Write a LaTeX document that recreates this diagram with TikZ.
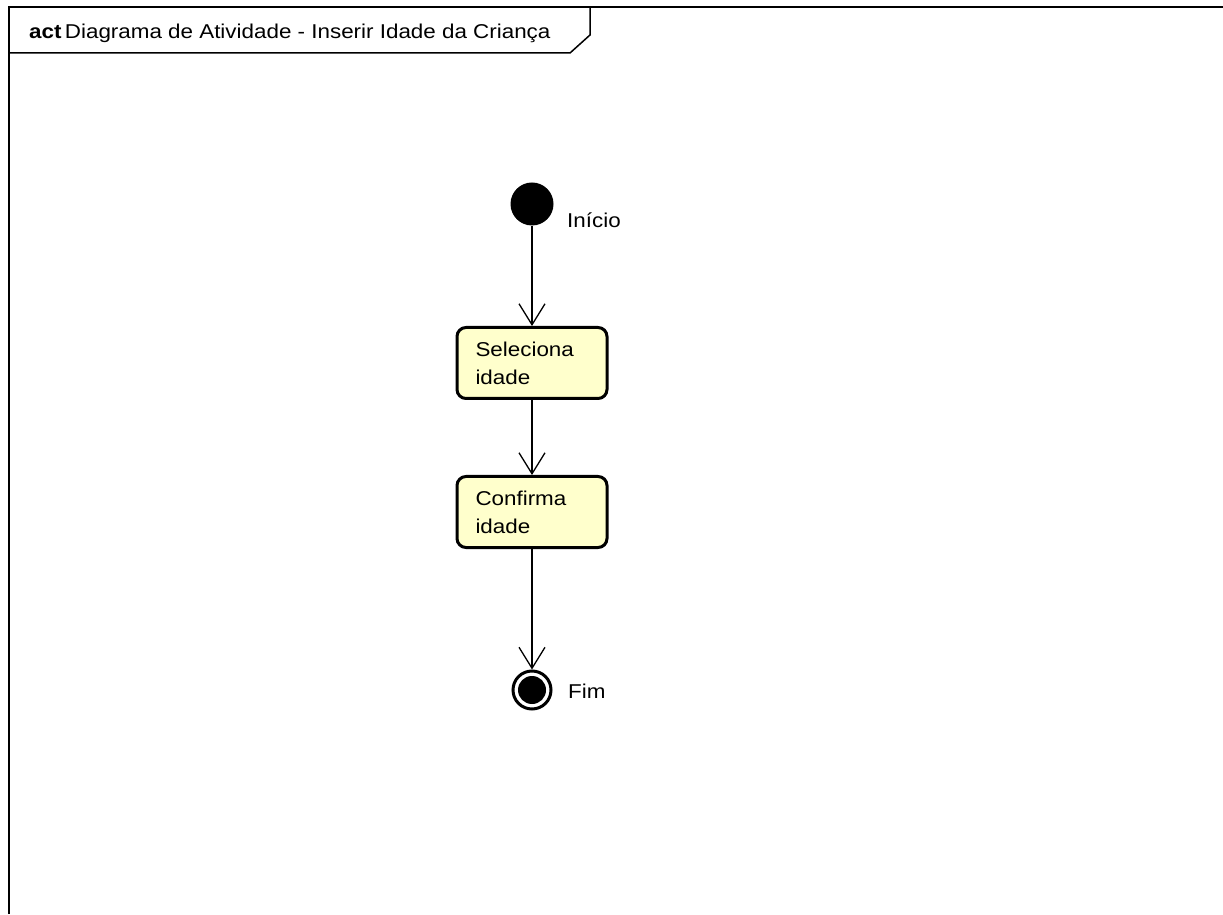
\documentclass[tikz,border=0pt]{standalone}
\usepackage{fontspec}
\setmainfont{Liberation Sans}[FakeStretch=1.12]
\usetikzlibrary{shapes,arrows.meta,calc}
\definecolor{actyellow}{RGB}{255,255,204}
\tikzstyle{line} = [draw, line width=1.3pt, -{Straight Barb[length=21pt,width=26pt]}]
\tikzstyle{action} = [draw, line width=3pt, fill=actyellow, rectangle, rounded corners=9pt, text width=113pt, inner xsep=18.5pt, minimum height=71pt, align=left, font=\fontsize{20}{28}\selectfont]
\tikzstyle{initial} = [circle, fill=black, minimum size=43pt, inner sep=0pt]
\tikzstyle{final} = [circle, draw, line width=3pt, minimum size=38pt, inner sep=0pt, path picture={\fill (path picture bounding box.center) circle (14pt);}]
\tikzstyle{tag} = [anchor=base west, inner sep=0pt, font=\fontsize{20}{24}\selectfont]
\tikzstyle{frame} = [draw, line width=1.5pt]

\begin{document}
\begin{tikzpicture}[x=1pt, y=1pt, node distance=159pt, auto]
        \useasboundingbox (0,0) rectangle (1223,914);
        % frame and its name tab
        \path[frame] (9,0) -- (9,907) -- (1223,907);
        \path[frame] (9,861) -- (570,861) -- (590,879) -- (590,907);
        \node[anchor=base west, inner sep=0pt, font=\fontsize{20}{24}\selectfont] (title) at (29,875) {\textbf{act}\,Diagrama de Atividade - Inserir Idade da Criança};
        \node[initial] (start) at (532,710) {};
        \node[action, below of=start] (sel) {Seleciona\\idade};
        \node[action, below of=sel, node distance=149pt] (conf) {Confirma\\idade};
        \node[final, below of=conf, node distance=178pt] (stop) {};
        \node[tag] (inicio) at (567,686) {Início};
        \node[tag] (fim) at (568,216) {Fim};
        \path[line] (start) -- (sel);
        \path[line] (sel) -- (conf);
        \path[line] (conf) -- (stop);
    \end{tikzpicture}
\end{document}
